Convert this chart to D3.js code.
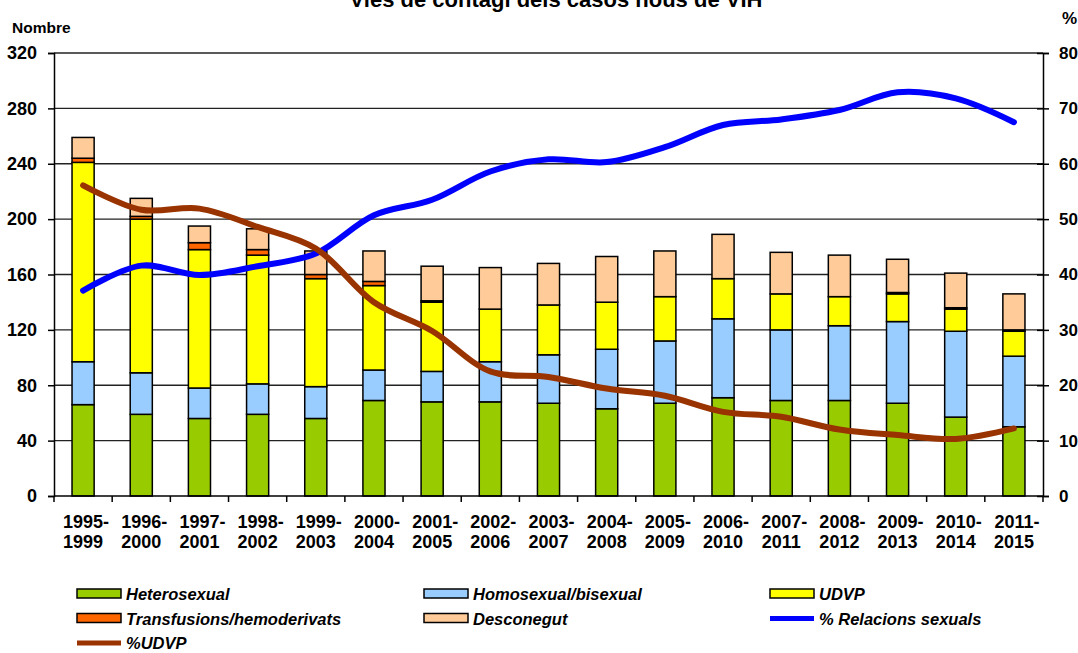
<!DOCTYPE html>
<html>
<head>
<meta charset="utf-8">
<script src="https://cdn.jsdelivr.net/npm/d3@7"></script>
<style>
  body { margin: 0; background: #fff; }
  svg { display: block; font-family: Arial, "Liberation Sans", sans-serif; }
</style>
</head>
<body>
<svg></svg>
<script>
const periods = ["1995-1999", "1996-2000", "1997-2001", "1998-2002", "1999-2003", "2000-2004",
  "2001-2005", "2002-2006", "2003-2007", "2004-2008", "2005-2009", "2006-2010",
  "2007-2011", "2008-2012", "2009-2013", "2010-2014", "2011-2015"];

const heterosexual = [66, 59, 56, 59, 56, 69, 68, 68, 67, 63, 67, 71, 69, 69, 67, 57, 50];
const homosexual = [31, 30, 22, 22, 23, 22, 22, 29, 35, 43, 45, 57, 51, 54, 59, 62, 51];
const udvp = [144, 111, 100, 93, 78, 61, 50, 38, 36, 34, 32, 29, 26, 21, 20, 16, 18];
const transfusions = [3, 2, 5, 4, 3, 3, 1, 0, 0, 0, 0, 0, 0, 0, 1, 1, 1];
const desconegut = [15, 13, 12, 15, 17, 22, 25, 30, 30, 33, 33, 32, 30, 30, 24, 25, 26];

const pctRelacions = [37.1, 41.6, 39.9, 41.5, 43.8, 50.7, 53.5, 58.6, 60.8, 60.3, 63, 67, 68,
  69.7, 72.9, 71.8, 67.5];
const pctUdvp = [56.1, 51.7, 51.9, 48.6, 44.7, 35, 29.8, 22.5, 21.5, 19.4, 18.1, 15.2, 14.3,
  12, 11, 10.3, 12.2];

const leftTicks = [0, 40, 80, 120, 160, 200, 240, 280, 320];
const rightTicks = [0, 10, 20, 30, 40, 50, 60, 70, 80];

const width = 1078, height = 653;
const plotLeft = 54, plotRight = 1043, plotTop = 53, plotBottom = 496;

const svg = d3.select("svg").attr("width", width).attr("height", height);

const x = d3.scaleBand().domain(periods).range([plotLeft, plotRight]).paddingInner(0.62).paddingOuter(0.31);
const y = d3.scaleLinear().domain([0, 320]).range([plotBottom, plotTop]);
const y2 = d3.scaleLinear().domain([0, 80]).range([plotBottom, plotTop]);

// gridlines
svg.append("g")
  .selectAll("line")
  .data(leftTicks.filter((d) => d > 0))
  .enter()
  .append("line")
  .attr("x1", plotLeft)
  .attr("x2", plotRight)
  .attr("y1", (d) => y(d))
  .attr("y2", (d) => y(d))
  .attr("stroke", "#222")
  .attr("stroke-width", 1.3);

// stacked bars
const series = [
  { key: "Heterosexual", values: heterosexual, color: "#99cc00" },
  { key: "Homosexual/bisexual", values: homosexual, color: "#99ccff" },
  { key: "UDVP", values: udvp, color: "#ffff00" },
  { key: "Transfusions/hemoderivats", values: transfusions, color: "#ff6600" },
  { key: "Desconegut", values: desconegut, color: "#ffcc99" },
];

const rows = periods.map((p, i) => {
  const r = { period: p };
  series.forEach((s) => (r[s.key] = s.values[i]));
  return r;
});

const stacked = d3.stack().keys(series.map((s) => s.key))(rows);

svg.append("g")
  .selectAll("g")
  .data(stacked)
  .enter()
  .append("g")
  .attr("fill", (d, i) => series[i].color)
  .selectAll("rect")
  .data((d) => d)
  .enter()
  .append("rect")
  .attr("x", (d) => x(d.data.period))
  .attr("width", x.bandwidth())
  .attr("y", (d) => y(d[1]))
  .attr("height", (d) => y(d[0]) - y(d[1]))
  .attr("stroke", "#000")
  .attr("stroke-width", 1.5);

// lines
const line = d3.line()
  .x((d, i) => x(periods[i]) + x.bandwidth() / 2)
  .y((d) => y2(d))
  .curve(d3.curveCatmullRom.alpha(0.5));

svg.append("path")
  .attr("d", line(pctRelacions))
  .attr("fill", "none")
  .attr("stroke", "#0000ff")
  .attr("stroke-width", 6)
  .attr("stroke-linecap", "round");

svg.append("path")
  .attr("d", line(pctUdvp))
  .attr("fill", "none")
  .attr("stroke", "#993300")
  .attr("stroke-width", 6)
  .attr("stroke-linecap", "round");

// axes
const axisLeft = svg.append("g").attr("transform", `translate(${plotLeft},0)`)
  .call(d3.axisLeft(y).tickValues(leftTicks).tickSize(6).tickPadding(11));
const axisRight = svg.append("g").attr("transform", `translate(${plotRight},0)`)
  .call(d3.axisRight(y2).tickValues(rightTicks).tickSize(6).tickPadding(10));
axisRight.selectAll(".tick line").attr("x1", -6);

const xBounds = d3.range(periods.length + 1).map((i) => plotLeft + (i * (plotRight - plotLeft)) / periods.length);
const axisX = svg.append("g");
axisX.append("line")
  .attr("x1", plotLeft).attr("x2", plotRight)
  .attr("y1", plotBottom).attr("y2", plotBottom)
  .attr("stroke", "#000").attr("stroke-width", 1.5);
axisX.selectAll(".xt")
  .data(xBounds)
  .enter()
  .append("line")
  .attr("x1", (d) => d).attr("x2", (d) => d)
  .attr("y1", plotBottom).attr("y2", plotBottom + 6)
  .attr("stroke", "#000").attr("stroke-width", 1.5);

[axisLeft, axisRight].forEach((a) => {
  a.select(".domain").attr("stroke", "#000").attr("stroke-width", 1.5);
  a.selectAll(".tick line").attr("stroke", "#000").attr("stroke-width", 1.5);
  a.selectAll("text").attr("font-size", 18).attr("font-weight", "bold").attr("fill", "#000");
});
axisRight.selectAll("text").attr("font-size", 17);

const xl = axisX.selectAll(".xl")
  .data(periods)
  .enter()
  .append("text")
  .attr("text-anchor", "middle")
  .attr("font-size", 18)
  .attr("font-weight", "bold")
  .attr("transform", (d) => `translate(${x(d) + x.bandwidth() / 2},528)`);
xl.append("tspan").attr("x", 0).attr("dx", 3).text((d) => d.split("-")[0] + "-");
xl.append("tspan").attr("x", 0).attr("y", 20).text((d) => d.split("-")[1]);

// titles
svg.append("text")
  .attr("x", 556).attr("y", 7)
  .attr("text-anchor", "middle")
  .attr("font-size", 22).attr("font-weight", "bold")
  .text("Vies de contagi dels casos nous de VIH");

svg.append("text")
  .attr("x", 12).attr("y", 33)
  .attr("font-size", 15.5).attr("font-weight", "bold")
  .text("Nombre");

svg.append("text")
  .attr("x", 1062).attr("y", 24)
  .attr("font-size", 17).attr("font-weight", "bold")
  .text("%");

// legend
const legendItems = [
  { label: "Heterosexual", color: "#99cc00", type: "rect" },
  { label: "Homosexual/bisexual", color: "#99ccff", type: "rect" },
  { label: "UDVP", color: "#ffff00", type: "rect" },
  { label: "Transfusions/hemoderivats", color: "#ff6600", type: "rect" },
  { label: "Desconegut", color: "#ffcc99", type: "rect" },
  { label: "% Relacions sexuals", color: "#0000ff", type: "line" },
  { label: "%UDVP", color: "#993300", type: "line" },
];
const colX = [77, 424, 770];

const legend = svg.append("g")
  .selectAll("g")
  .data(legendItems)
  .enter()
  .append("g")
  .attr("transform", (d, i) => `translate(${colX[i % 3]},${594 + Math.floor(i / 3) * 24.5})`);

legend.filter((d) => d.type === "rect")
  .append("rect")
  .attr("x", 0).attr("y", -5)
  .attr("width", 44).attr("height", 9)
  .attr("fill", (d) => d.color)
  .attr("stroke", "#000")
  .attr("stroke-width", 1.5);

legend.filter((d) => d.type === "line")
  .append("line")
  .attr("x1", 0).attr("x2", 44)
  .attr("y1", 0).attr("y2", 0)
  .attr("stroke", (d) => d.color)
  .attr("stroke-width", 5);

legend.append("text")
  .attr("x", 49)
  .attr("y", 6)
  .attr("font-size", 16.5)
  .attr("font-weight", "bold")
  .attr("font-style", "italic")
  .text((d) => d.label);
</script>
</body>
</html>
